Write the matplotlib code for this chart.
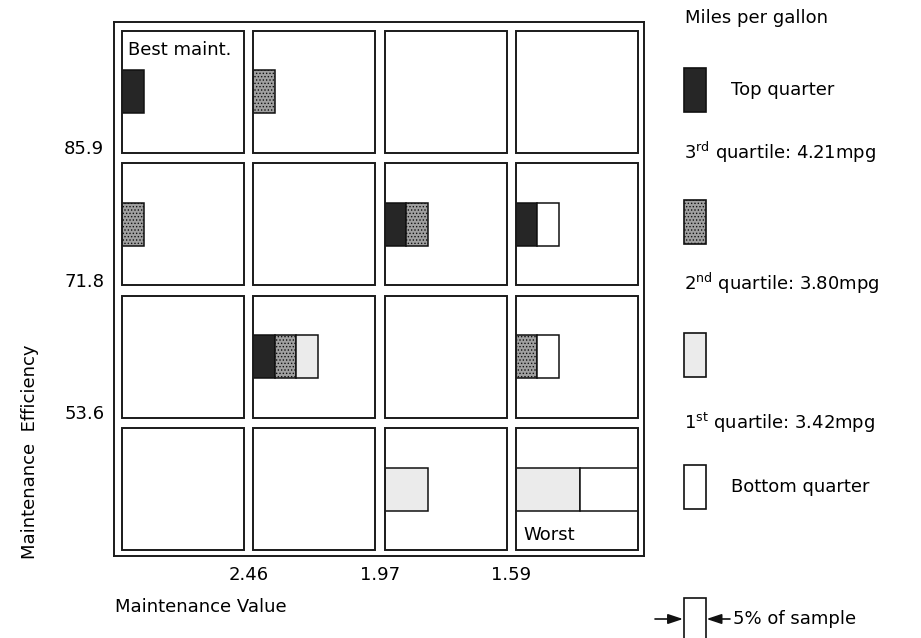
import matplotlib
matplotlib.use("Agg")
import matplotlib.pyplot as plt
from matplotlib.patches import Rectangle
import numpy as np

plt.rcParams['font.family'] = ['DejaVu Sans']
plt.rcParams['hatch.linewidth'] = 0.6

# ---------------- data ----------------
eff_ticks = ['85.9', '71.8', '53.6']          # Maintenance Efficiency boundaries (top -> bottom)
val_ticks = ['2.46', '1.97', '1.59']          # Maintenance Value boundaries (left -> right)
categories = ['Top quarter', '3rd quartile', '2nd quartile', 'Bottom quarter']
# percent of sample in each cell (rows: top -> bottom, cols: left -> right)
top_q = [[5, 0, 0, 0],
         [0, 0, 5, 5],
         [0, 5, 0, 0],
         [0, 0, 0, 0]]
third_q = [[0, 5, 0, 0],
           [5, 0, 5, 0],
           [0, 5, 0, 5],
           [0, 0, 0, 0]]
second_q = [[0, 0, 0, 0],
            [0, 0, 0, 0],
            [0, 5, 0, 0],
            [0, 0, 10, 15]]
bottom_q = [[0, 0, 0, 0],
            [0, 0, 0, 5],
            [0, 0, 0, 5],
            [0, 0, 0, 15]]
legend_lines = [r'3$^{\rm rd}$ quartile: 4.21mpg',
                r'2$^{\rm nd}$ quartile: 3.80mpg',
                r'1$^{\rm st}$ quartile: 3.42mpg']

# ---------------- style ----------------
fills = ['#262626', '#a0a0a0', '#ebebeb', '#ffffff']
hatches = [None, '.....', None, None]
FS = 13
pct_w = 0.0328          # data width per 1 % of sample
bar_h = 0.325
gx, gy = 0.07, 0.08

W, H = 921, 638
fig = plt.figure(figsize=(W / 100, H / 100), dpi=100)
ax = fig.add_axes([114 / W, (H - 556) / H, 530 / W, 534 / H])
ax.set_xlim(-0.026, 4.011)
ax.set_ylim(-0.005, 4.028)
for s in ax.spines.values():
    s.set_linewidth(1.4)
    s.set_color('#1a1a1a')

series = [np.array(top_q), np.array(third_q), np.array(second_q), np.array(bottom_q)]
nrow, ncol = series[0].shape
for r in range(nrow):
    for c in range(ncol):
        x0 = c + gx / 2
        y0 = (nrow - 1 - r) + gy / 2
        cw, ch = 1 - gx, 1 - gy
        cell = Rectangle((x0, y0), cw, ch, facecolor='white', edgecolor='none', zorder=1)
        ax.add_patch(cell)
        left = x0
        yc = y0 + ch / 2
        for k in range(4):
            v = series[k][r, c]
            if v <= 0:
                continue
            w = v * pct_w
            bar = Rectangle((left, yc - bar_h / 2), w, bar_h, facecolor=fills[k],
                            edgecolor='#111111', lw=1.1, hatch=hatches[k], zorder=2)
            ax.add_patch(bar)
            bar.set_clip_path(cell)
            left += w
        ax.add_patch(Rectangle((x0, y0), cw, ch, facecolor='none', edgecolor='#1a1a1a',
                               lw=1.4, zorder=3))

ax.set_xticks([1, 2, 3])
ax.set_xticklabels(val_ticks, fontsize=FS)
ax.set_yticks([3, 2, 1])
ax.set_yticklabels(eff_ticks, fontsize=FS, va='bottom')
ax.tick_params(length=0)
ax.tick_params(axis='x', pad=7)
ax.tick_params(axis='y', pad=7)

ax.text(gx / 2 + 0.045, 4 - gy / 2 - 0.145, 'Best maint.', fontsize=FS,
        ha='left', va='center', zorder=4)
ax.text(3 + gx / 2 + 0.06, gy / 2 + 0.115, 'Worst', fontsize=FS,
        ha='left', va='center', zorder=4)

fig.text(115 / W, 1 - 607 / H, 'Maintenance Value', fontsize=FS, ha='left', va='center')
fig.text(30 / W, 1 - 452 / H, 'Maintenance  Efficiency', fontsize=FS, ha='center',
         va='center', rotation=90)

# ---------------- legend ----------------
lax = fig.add_axes([0, 0, 1, 1], zorder=-1)
lax.set_xlim(0, W)
lax.set_ylim(H, 0)
lax.axis('off')
px = 131.3 * pct_w        # pixels per 1 %
bw = 5 * px
bh = 44
bx = 684
fig.text(685 / W, 1 - 18 / H, 'Miles per gallon', fontsize=FS, ha='left', va='center')
box_tops = [68, 200, 333, 465]
for k, yt in enumerate(box_tops):
    lax.add_patch(Rectangle((bx, yt), bw, bh, facecolor=fills[k], edgecolor='#111111',
                            lw=1.2, hatch=hatches[k]))
fig.text(731 / W, 1 - 90 / H, categories[0], fontsize=FS, ha='left', va='center')
fig.text(731 / W, 1 - 487 / H, categories[3], fontsize=FS, ha='left', va='center')
for txt, yc in zip(legend_lines, [152, 283, 423]):
    fig.text(684 / W, 1 - yc / H, txt, fontsize=FS, ha='left', va='center')

# 5 % of sample key
lax.add_patch(Rectangle((bx, 598), bw, bh, facecolor='white', edgecolor='#111111', lw=1.2))
lax.annotate('', xy=(bx - 1, 619), xytext=(655, 619),
             arrowprops=dict(arrowstyle='-|>,head_length=0.9,head_width=0.3',
                             color='#111111', lw=1.2, shrinkA=0, shrinkB=0))
lax.annotate('', xy=(bx + bw + 1, 619), xytext=(730, 619),
             arrowprops=dict(arrowstyle='-|>,head_length=0.9,head_width=0.3',
                             color='#111111', lw=1.2, shrinkA=0, shrinkB=0))
fig.text(733 / W, 1 - 619 / H, '5% of sample', fontsize=FS, ha='left', va='center')

fig.savefig('out.png', dpi=100, facecolor='white')
